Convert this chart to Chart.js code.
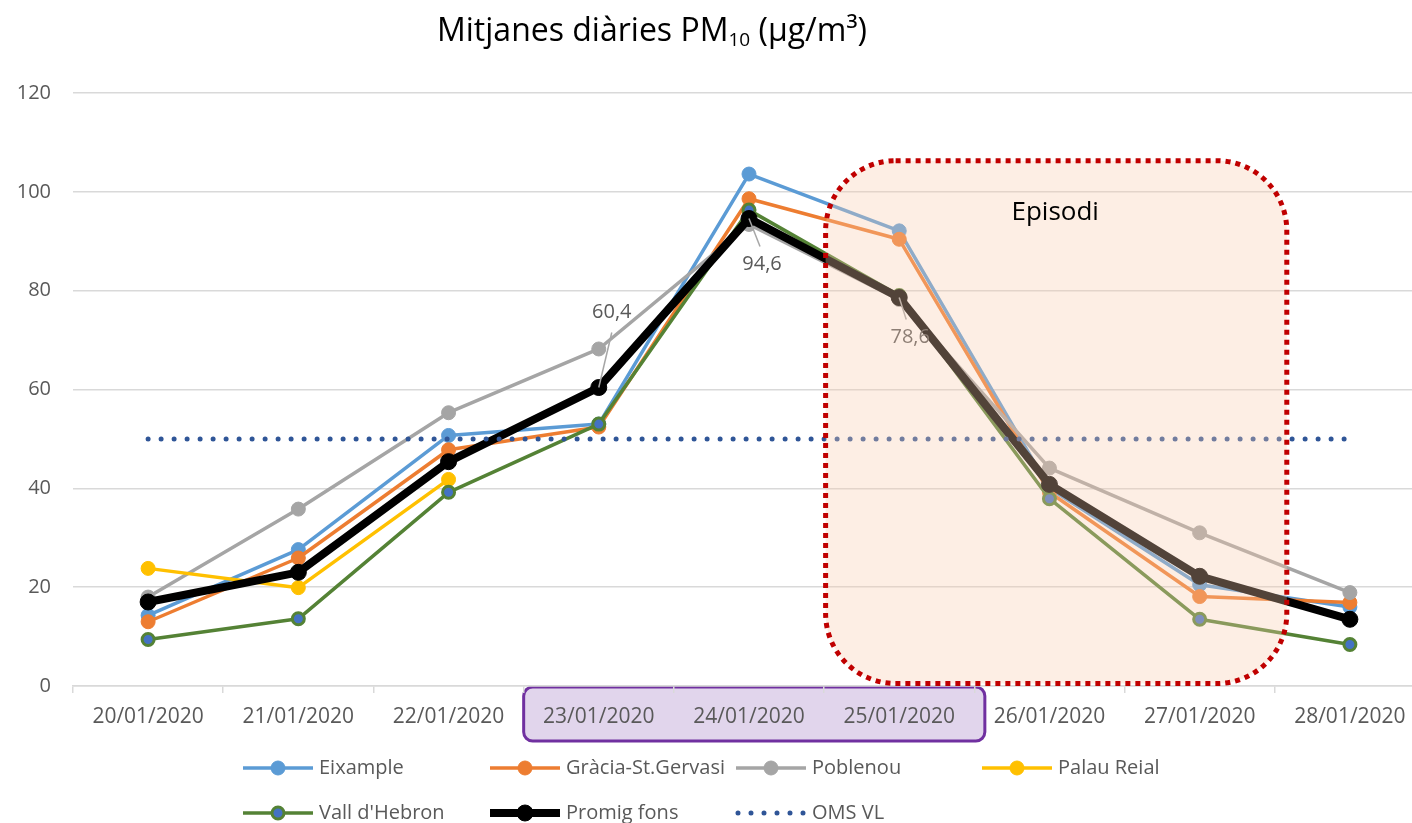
<!DOCTYPE html>
<html>
<head>
<meta charset="utf-8">
<script src="https://cdn.jsdelivr.net/npm/chart.js@4/dist/chart.umd.min.js"></script>
<style>
  html, body { margin: 0; padding: 0; background: #fff; overflow: hidden; }
  canvas { display: block; }
</style>
</head>
<body>
<canvas id="chart" width="1440" height="823"></canvas>
<script>
// dades llegides del gràfic
const labels = ['20/01/2020', '21/01/2020', '22/01/2020', '23/01/2020', '24/01/2020',
                '25/01/2020', '26/01/2020', '27/01/2020', '28/01/2020'];
const eixample   = [14.3, 27.6, 50.7, 53.0, 103.6, 92.1, 40.0, 20.5, 16.0];
const gracia     = [13.0, 25.9, 47.8, 52.4, 98.6, 90.4, 39.2, 18.1, 16.9];
const poblenou   = [18.0, 35.8, 55.3, 68.2, 93.4, 78.2, 44.1, 31.0, 18.9];
const palauReial = [23.8, 19.9, 41.8, null, null, null, null, null, null];
const vallHebron = [9.4, 13.6, 39.2, 53.0, 96.3, 79.0, 37.9, 13.5, 8.4];
const promigFons = [17.0, 23.0, 45.4, 60.4, 94.6, 78.6, 40.8, 22.2, 13.5];
const omsVL      = [50, 50, 50, 50, 50, 50, 50, 50, 50];
const yMin = 0, yMax = 120, yStep = 20;

// etiquetes de valor del promig (índex del dia)
const labelledDays = [3, 4, 5];
// període de l'episodi (en índex de categoria) i dies destacats a l'eix
const episodi = { from: 4.51, to: 7.58, yFrom: 0.5, yTo: 106.3, text: 'Episodi' };
const diesDestacats = { from: 2.5, to: 5.57 };

const FONT = "'Open Sans', sans-serif";
const GREY_TEXT = '#595959';

function roundRect(ctx, x, y, w, h, r) {
    ctx.beginPath();
    ctx.moveTo(x + r, y);
    ctx.lineTo(x + w - r, y);
    ctx.arcTo(x + w, y, x + w, y + r, r);
    ctx.lineTo(x + w, y + h - r);
    ctx.arcTo(x + w, y + h, x + w - r, y + h, r);
    ctx.lineTo(x + r, y + h);
    ctx.arcTo(x, y + h, x, y + h - r, r);
    ctx.lineTo(x, y + r);
    ctx.arcTo(x, y, x + r, y, r);
    ctx.closePath();
}

// caixa lila darrere les etiquetes de l'eix X
const boxDies = {
    id: 'boxDies',
    beforeDraw(chart) {
        const ctx = chart.ctx;
        const x = chart.scales.x;
        const left = x.getPixelForValue(diesDestacats.from);
        const right = x.getPixelForValue(diesDestacats.to);
        const top = x.top + 1;
        ctx.save();
        roundRect(ctx, left, top, right - left, 54, 9);
        ctx.fillStyle = '#E1D5EC';
        ctx.fill();
        ctx.lineWidth = 3;
        ctx.strokeStyle = '#7030A0';
        ctx.stroke();
        ctx.restore();
    }
};

// etiquetes del promig + caixa de l'episodi
const overlay = {
    id: 'overlay',
    afterDatasetsDraw(chart) {
        const ctx = chart.ctx;
        const meta = chart.getDatasetMeta(5);
        // [dx, dy] etiqueta, [dx, dy] final de la línia guia
        const offsets = { 3: [13, -75, 13, -55], 4: [13, 46, 11, 28], 5: [11, 40, 7, 22] };
        ctx.save();
        ctx.font = '20px ' + FONT;
        ctx.fillStyle = GREY_TEXT;
        ctx.textAlign = 'center';
        ctx.textBaseline = 'middle';
        labelledDays.forEach(i => {
            const p = meta.data[i];
            const o = offsets[i];
            ctx.strokeStyle = '#A6A6A6';
            ctx.lineWidth = 1.5;
            ctx.beginPath();
            ctx.moveTo(p.x, p.y);
            ctx.lineTo(p.x + o[2], p.y + o[3]);
            ctx.stroke();
            ctx.fillText(promigFons[i].toFixed(1).replace('.', ','), p.x + o[0], p.y + o[1]);
        });

        const x = chart.scales.x, y = chart.scales.y;
        const l = x.getPixelForValue(episodi.from), r = x.getPixelForValue(episodi.to);
        const t = y.getPixelForValue(episodi.yTo), b = y.getPixelForValue(episodi.yFrom);
        roundRect(ctx, l, t, r - l, b - t, 70);
        ctx.fillStyle = 'rgba(248, 203, 173, 0.33)';
        ctx.fill();
        ctx.setLineDash([5, 5]);
        ctx.lineWidth = 5;
        ctx.strokeStyle = '#C00000';
        ctx.stroke();
        ctx.setLineDash([]);
        ctx.font = '26px ' + FONT;
        ctx.fillStyle = '#000';
        ctx.fillText(episodi.text, (l + r) / 2 - 1, t + 52);
        ctx.restore();
    }
};

// títol i llegenda dibuixats a mà
const titleLegend = {
    id: 'titleLegend',
    afterDraw(chart) {
        const ctx = chart.ctx;
        ctx.save();
        // títol amb subíndex
        const parts = [['Mitjanes diàries PM', 32, 0], ['10', 19, 5], [' (µg/m³)', 32, 0]];
        let total = 0;
        parts.forEach(p => { ctx.font = p[1] + 'px ' + FONT; total += ctx.measureText(p[0]).width; });
        let cx = 652 - total / 2;
        ctx.fillStyle = '#000';
        ctx.textBaseline = 'alphabetic';
        ctx.textAlign = 'left';
        parts.forEach(p => {
            ctx.font = p[1] + 'px ' + FONT;
            ctx.fillText(p[0], cx, 41 + p[2]);
            cx += ctx.measureText(p[0]).width;
        });

        // llegenda
        const cols = [243, 490, 736, 982];
        const rows = [768, 813];
        ctx.font = '20px ' + FONT;
        ctx.textBaseline = 'middle';
        chart.data.datasets.forEach((ds, i) => {
            const x0 = cols[i % 4], yy = rows[Math.floor(i / 4)];
            ctx.strokeStyle = ds.borderColor;
            ctx.lineWidth = ds.borderWidth;
            ctx.lineCap = ds.borderCapStyle || 'butt';
            ctx.setLineDash(ds.borderDash || []);
            ctx.beginPath();
            ctx.moveTo(x0 + (ds.borderDash ? 2 : 0), yy);
            ctx.lineTo(x0 + 70, yy);
            ctx.stroke();
            ctx.setLineDash([]);
            if (ds.pointRadius > 0) {
                ctx.beginPath();
                ctx.arc(x0 + 35, yy, ds.pointRadius, 0, Math.PI * 2);
                ctx.fillStyle = ds.pointBackgroundColor;
                ctx.fill();
                ctx.lineWidth = ds.pointBorderWidth;
                ctx.strokeStyle = ds.pointBorderColor;
                ctx.stroke();
            }
            ctx.fillStyle = GREY_TEXT;
            ctx.fillText(ds.label, x0 + 76, yy);
        });
        ctx.restore();
    }
};

function serie(label, data, color, extra) {
    return Object.assign({
        label: label,
        data: data,
        borderColor: color,
        backgroundColor: color,
        borderWidth: 3.5,
        borderJoinStyle: 'round',
        pointRadius: 7,
        pointBackgroundColor: color,
        pointBorderColor: color,
        pointBorderWidth: 1,
        spanGaps: false
    }, extra || {});
}

new Chart(document.getElementById('chart'), {
    type: 'line',
    data: {
        labels: labels,
        datasets: [
            serie('Eixample', eixample, '#5B9BD5', { order: 6 }),
            serie('Gràcia-St.Gervasi', gracia, '#ED7D31', { order: 5 }),
            serie('Poblenou', poblenou, '#A5A5A5', { order: 4 }),
            serie('Palau Reial', palauReial, '#FFC000', { order: 3 }),
            serie("Vall d'Hebron", vallHebron, '#548235', {
                order: 2, pointRadius: 6, pointBackgroundColor: '#4472C4', pointBorderWidth: 3
            }),
            serie('Promig fons', promigFons, '#000000', { order: 1, borderWidth: 8, pointRadius: 8 }),
            serie('OMS VL', omsVL, '#2F5597', {
                order: 0, borderWidth: 5, borderDash: [0, 13], borderCapStyle: 'round', pointRadius: 0
            })
        ]
    },
    options: {
        responsive: false,
        devicePixelRatio: 1,
        animation: false,
        layout: { padding: { top: 93, right: 15, bottom: 0, left: 0 } },
        plugins: { legend: { display: false }, title: { display: false }, tooltip: { enabled: false } },
        scales: {
            x: {
                offset: true,
                grid: { offset: true, drawOnChartArea: false, drawTicks: true, tickLength: 7, color: '#D9D9D9', lineWidth: 1.5 },
                border: { color: '#D9D9D9', width: 1.5 },
                ticks: { font: { family: FONT, size: 21 }, color: GREY_TEXT, padding: 11, maxRotation: 0, autoSkip: false },
                afterFit(scale) { scale.height = 137; }
            },
            y: {
                min: yMin, max: yMax,
                ticks: { stepSize: yStep, font: { family: FONT, size: 20 }, color: GREY_TEXT, padding: 22 },
                grid: { drawTicks: false, color: '#D9D9D9', lineWidth: 1.5 },
                border: { display: false },
                afterFit(scale) { scale.width = 73; }
            }
        }
    },
    plugins: [boxDies, overlay, titleLegend]
});
</script>
</body>
</html>
